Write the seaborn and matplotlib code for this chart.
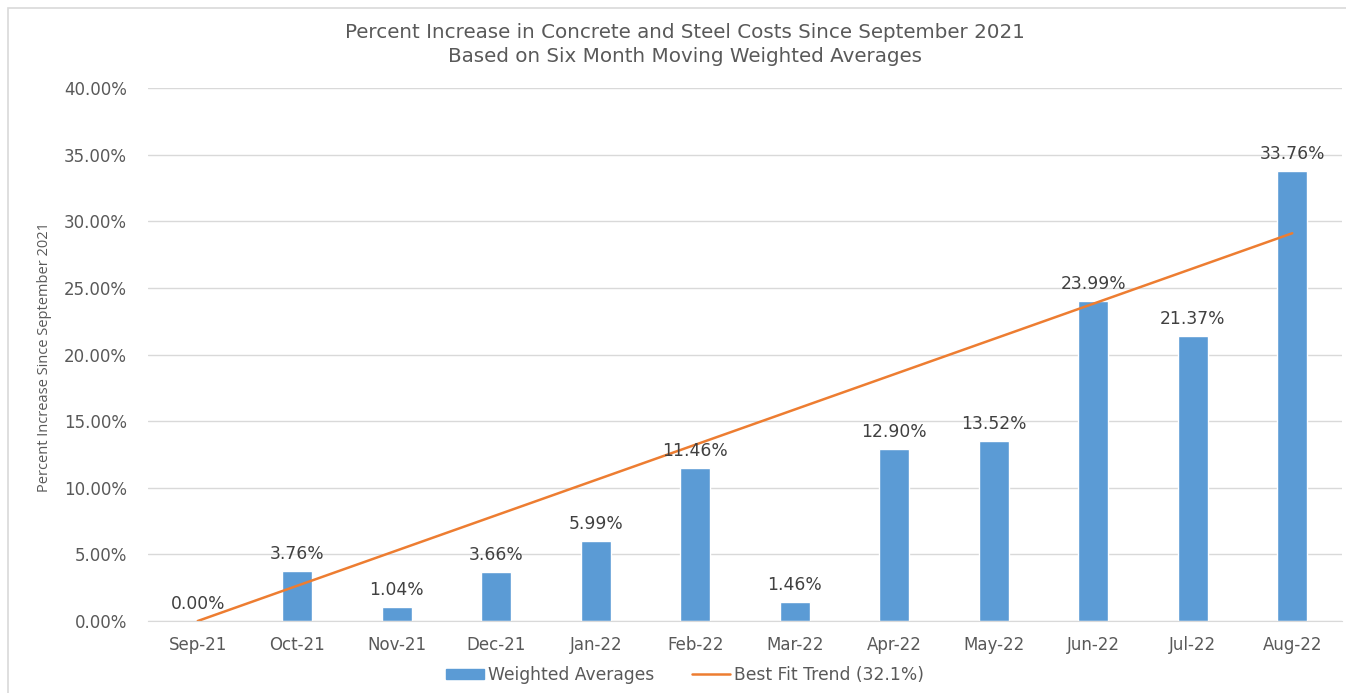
import seaborn as sns
import numpy as np
import pandas as pd
import matplotlib.pyplot as plt
from matplotlib.patches import Rectangle
from matplotlib.lines import Line2D
from matplotlib.ticker import FuncFormatter, FixedLocator

months = ['Sep-21', 'Oct-21', 'Nov-21', 'Dec-21', 'Jan-22', 'Feb-22',
          'Mar-22', 'Apr-22', 'May-22', 'Jun-22', 'Jul-22', 'Aug-22']
weighted_avg = [0.00, 3.76, 1.04, 3.66, 5.99, 11.46, 1.46, 12.90, 13.52, 23.99, 21.37, 33.76]
trend_months = ['Sep-21', 'Aug-22']
trend_values = [0.0, 29.1]

df = pd.DataFrame({'month': months, 'pct': weighted_avg})
trend_df = pd.DataFrame({'pos': [months.index(m) for m in trend_months], 'pct': trend_values})

sns.set_style('white')
plt.rcParams['font.family'] = ['DejaVu Sans']

bar_color = '#5B9BD5'
line_color = '#ED7D31'
txt = '#595959'

fig = plt.figure(figsize=(13.46, 6.93), dpi=100)
ax = fig.add_axes([148 / 1346, 1 - 621 / 693, (1342 - 148) / 1346, (621 - 88) / 693])

sns.barplot(x='month', y='pct', data=df, color=bar_color, width=0.3, ax=ax, saturation=1)
sns.lineplot(x='pos', y='pct', data=trend_df, color=line_color, lw=1.8, ax=ax)

for i, v in enumerate(weighted_avg):
    ax.text(i, v + 0.6, f'{v:.2f}%', ha='center', va='bottom', fontsize=12.3, color='#404040')

ax.set_xlim(-0.5, len(months) - 0.5)
ax.set_ylim(0, 40)
ax.set_yticks(np.arange(0, 41, 5))
ax.yaxis.set_major_formatter(FuncFormatter(lambda v, p: f'{v:.2f}%'))
ax.grid(axis='y', color='#D9D9D9', lw=1)
ax.set_axisbelow(True)
for s in ['left', 'right', 'top']:
    ax.spines[s].set_visible(False)
ax.spines['bottom'].set_color('#D9D9D9')
ax.tick_params(axis='y', length=0, labelsize=12, labelcolor=txt, pad=15)
ax.tick_params(axis='x', length=0, labelsize=12, labelcolor=txt, pad=11)
ax.xaxis.set_minor_locator(FixedLocator(np.arange(-0.5, len(months), 1)))
ax.tick_params(axis='x', which='minor', length=5, color='#D9D9D9')
ax.set_xlabel('')
ax.set_ylabel('')

fig.text(45 / 1346, 1 - 357 / 693, 'Percent Increase Since September 2021', rotation=90,
         ha='center', va='center', fontsize=10.5, color=txt,
         family=['Liberation Sans Narrow', 'Open Sans'])

fig.text(685 / 1346, 1 - 32 / 693, 'Percent Increase in Concrete and Steel Costs Since September 2021',
         ha='center', va='center', fontsize=14.3, color=txt)
fig.text(685 / 1346, 1 - 57 / 693, 'Based on Six Month Moving Weighted Averages',
         ha='center', va='center', fontsize=14.3, color=txt)

handles = [Rectangle((0, 0), 1, 1, color=bar_color),
           Line2D([0], [0], color=line_color, lw=1.8)]
fig.legend(handles, ['Weighted Averages', 'Best Fit Trend (32.1%)'], ncol=2, frameon=False,
           loc='center', bbox_to_anchor=(685 / 1346, 1 - 675 / 693), fontsize=12.3,
           labelcolor=txt, handlelength=2.2, handleheight=0.6, handletextpad=0.25, columnspacing=2.2)

fig.add_artist(Rectangle((8 / 1346, -0.05), 1.1, 1 - 8 / 693 + 0.05, transform=fig.transFigure,
                         fill=False, edgecolor='#D9D9D9', lw=1.2))

fig.savefig('out.png', dpi=100)
